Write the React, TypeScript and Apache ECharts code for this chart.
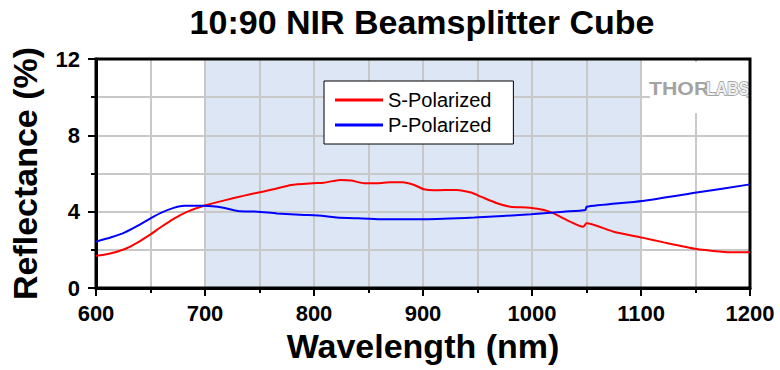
import React, { useEffect, useRef } from "react";
import * as echarts from "echarts";

const titleText = "10:90 NIR Beamsplitter Cube";
const xAxisName = "Wavelength (nm)";
const yAxisName = "Reflectance (%)";
const seriesNames = ["S-Polarized", "P-Polarized"];
const bandRange = [700, 1100];

const sWavelength = [600, 611, 626, 638, 650, 660, 672, 684, 699, 717, 736, 749, 763, 779, 799, 809, 824, 834, 846, 858, 870, 881, 892, 901, 910, 931, 944, 953, 968, 980, 998, 1011, 1020, 1032, 1047, 1050, 1075, 1101, 1121, 1151, 1166, 1182, 1200];
const sReflect = [1.69, 1.78, 2.03, 2.38, 2.81, 3.21, 3.65, 4.0, 4.31, 4.58, 4.84, 5.0, 5.17, 5.4, 5.49, 5.52, 5.66, 5.63, 5.49, 5.49, 5.54, 5.54, 5.4, 5.17, 5.12, 5.14, 5.0, 4.79, 4.44, 4.26, 4.21, 4.09, 3.91, 3.56, 3.21, 3.39, 2.95, 2.64, 2.39, 2.04, 1.94, 1.87, 1.87];

const pWavelength = [600, 614, 626, 638, 650, 660, 672, 681, 699, 717, 730, 748, 766, 791, 809, 821, 840, 861, 901, 947, 999, 1029, 1049, 1050, 1101, 1151, 1200];
const pReflect = [2.43, 2.66, 2.9, 3.25, 3.65, 3.95, 4.21, 4.31, 4.31, 4.21, 4.04, 4.0, 3.91, 3.83, 3.77, 3.7, 3.65, 3.6, 3.6, 3.69, 3.86, 4.0, 4.09, 4.26, 4.56, 5.0, 5.43];

const FONT = "'Liberation Sans', Arial, sans-serif";

function zip(xs: number[], ys: number[]) {
  return xs.map((x, i) => [x, ys[i]]);
}

export default function App() {
  const ref = useRef<HTMLDivElement>(null);
  useEffect(() => {
    document.body.style.margin = "0";
    const chart = echarts.init(ref.current!, null, { renderer: "svg" });
    const gridLine = { show: true, lineStyle: { color: "#c8c8c8", width: 2 } };
    const axisCommon = {
      z: 1.5,
      axisLine: { show: true, lineStyle: { color: "#000", width: 3 } },
      axisTick: { show: true, inside: false, length: 8, lineStyle: { color: "#000", width: 2 } },
      minorTick: { show: true, splitNumber: 2, length: 5, lineStyle: { color: "#000", width: 2 } },
      splitLine: gridLine,
      minorSplitLine: gridLine,
    };
    const labelCommon = {
      fontFamily: FONT,
      fontSize: 22,
      fontWeight: "bold",
      color: "#000",
      formatter: (v: number) => String(v),
    };
    chart.setOption({
      animation: false,
      title: {
        text: titleText,
        left: 422,
        top: 5,
        padding: 0,
        textAlign: "center",
        textStyle: { fontFamily: FONT, fontSize: 34, fontWeight: "bold", color: "#000" },
      },
      grid: {
        left: 95,
        right: 30,
        top: 59,
        bottom: 82,
        show: true,
        z: 3,
        borderColor: "#000",
        borderWidth: 3,
        backgroundColor: "transparent",
      },
      legend: {
        orient: "vertical",
        left: 324,
        top: 81,
        padding: [9, 22, 9, 11],
        icon: "rect",
        itemWidth: 48,
        itemHeight: 3,
        itemGap: 5,
        backgroundColor: "#fff",
        borderColor: "#000",
        borderWidth: 1,
        borderRadius: 0,
        textStyle: { fontFamily: FONT, fontSize: 20, color: "#000", lineHeight: 20 },
        data: seriesNames,
      },
      xAxis: {
        type: "value",
        min: 600,
        max: 1200,
        interval: 100,
        name: xAxisName,
        nameLocation: "middle",
        nameGap: 40,
        nameTextStyle: { fontFamily: FONT, fontSize: 34, fontWeight: "bold", color: "#000" },
        axisLabel: { margin: 14, ...labelCommon },
        ...axisCommon,
      },
      yAxis: {
        type: "value",
        min: 0,
        max: 12,
        interval: 4,
        name: yAxisName,
        nameLocation: "middle",
        nameGap: 54,
        nameRotate: 90,
        nameTextStyle: { fontFamily: FONT, fontSize: 34, fontWeight: "bold", color: "#000" },
        axisLabel: { margin: 16, ...labelCommon },
        ...axisCommon,
      },
      graphic: [
        { type: "rect", z: 1.8, shape: { x: 650, y: 62, width: 96, height: 51 }, style: { fill: "#fff" } },
        {
          type: "text",
          z: 1.9,
          x: 649,
          y: 79,
          scaleX: 1.12,
          style: { text: "THOR", fontFamily: FONT, fontSize: 19, fontWeight: 900, fill: "#a3a3a3" },
        },
        {
          type: "text",
          z: 1.9,
          x: 706,
          y: 79,
          scaleX: 0.84,
          style: { text: "LABS", fontFamily: FONT, fontSize: 19, fontWeight: "bold", fill: "#f0f0f0", stroke: "#959595", lineWidth: 1.5 },
        },
      ],
      series: [
        {
          name: seriesNames[0],
          type: "line",
          data: zip(sWavelength, sReflect),
          symbol: "none",
          smooth: 0.2,
          lineStyle: { color: "#ff0000", width: 2 },
          itemStyle: { color: "#ff0000" },
          markArea: {
            silent: true,
            z: 1,
            itemStyle: { color: "#dce6f4" },
            data: [[{ xAxis: bandRange[0] }, { xAxis: bandRange[1] }]],
          },
        },
        {
          name: seriesNames[1],
          type: "line",
          data: zip(pWavelength, pReflect),
          symbol: "none",
          smooth: 0.2,
          lineStyle: { color: "#0000ff", width: 2 },
          itemStyle: { color: "#0000ff" },
        },
      ],
    });
    return () => chart.dispose();
  }, []);
  return <div ref={ref} style={{ width: 780, height: 370 }} />;
}
